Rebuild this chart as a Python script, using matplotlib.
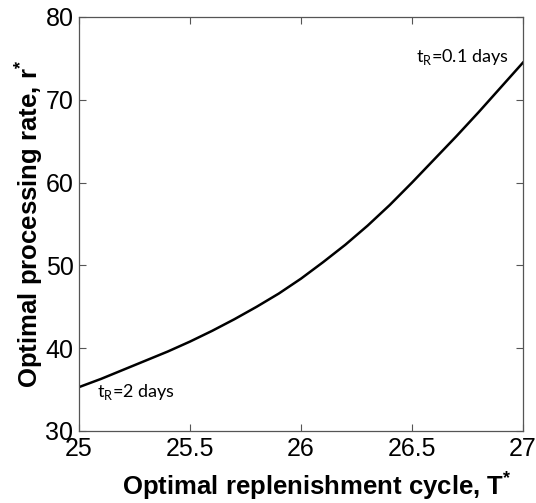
import matplotlib
matplotlib.use('Agg')
import matplotlib.pyplot as plt
import numpy as np

# optimal replenishment cycle T* vs optimal processing rate r*
cycle_T = [25.0, 25.1, 25.2, 25.3, 25.4, 25.5, 25.6, 25.7, 25.8, 25.9, 26.0,
           26.1, 26.2, 26.3, 26.4, 26.5, 26.6, 26.7, 26.8, 26.9, 27.0]
rate_r = [35.3, 36.3, 37.4, 38.5, 39.6, 40.8, 42.1, 43.5, 45.0, 46.6, 48.4,
          50.4, 52.5, 54.8, 57.3, 60.0, 62.8, 65.6, 68.5, 71.5, 74.5]
x_ticks = [25, 25.5, 26, 26.5, 27]
y_ticks = [30, 40, 50, 60, 70, 80]

plt.rcParams['font.family'] = ['Liberation Sans', 'DejaVu Sans']
plt.rcParams['mathtext.fontset'] = 'custom'
plt.rcParams['mathtext.rm'] = 'Liberation Sans'
plt.rcParams['mathtext.bf'] = 'Liberation Sans:bold'

fig = plt.figure(figsize=(5.36, 5.03), dpi=100)
ax = fig.add_axes([79 / 536, 1 - 431 / 503, 444 / 536, 414 / 503])

ax.plot(cycle_T, rate_r, color='black', linewidth=1.8)

ax.set_xlim(25, 27)
ax.set_ylim(30, 80)
ax.set_xticks(x_ticks)
ax.set_xticklabels(['25', '25.5', '26', '26.5', '27'])
ax.set_yticks(y_ticks)
ax.tick_params(direction='in', length=5, width=0.8, color='#555555',
               labelsize=18, top=True, right=True, pad=4)
for s in ax.spines.values():
    s.set_color('#555555')
    s.set_linewidth(0.9)

ax.set_xlabel(r'Optimal replenishment cycle, T$^\mathbf{*}$',
              fontsize=18.5, fontweight='bold', labelpad=6)
ax.xaxis.label.set_x(0.535)
ax.set_ylabel(r'Optimal processing rate, r$^\mathbf{*}$',
              fontsize=18.5, fontweight='bold', labelpad=0)

ann = ['Lato', 'DejaVu Sans']
ax.text(26.52, 75.2, r't$_\mathregular{R}$=0.1 days', fontsize=13,
        family=ann, va='center', ha='left')
ax.text(25.08, 34.7, r't$_\mathregular{R}$=2 days', fontsize=13,
        family=ann, va='center', ha='left')

fig.savefig('out.png', dpi=100)
